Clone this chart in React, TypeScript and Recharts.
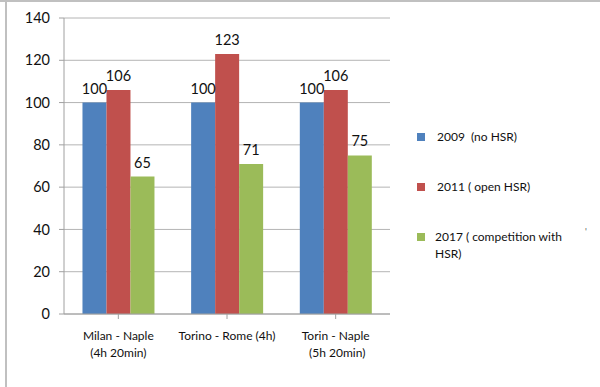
import { BarChart, Bar, XAxis, YAxis, CartesianGrid, LabelList } from "recharts"

const routes = ["Milan - Naple|(4h 20min)", "Torino - Rome (4h)", "Torin - Naple| (5h 20min)"]
const noHsr2009 = [100, 100, 100]
const openHsr2011 = [106, 123, 106]
const competition2017 = [65, 71, 75]
const yTicks = [0, 20, 40, 60, 80, 100, 120, 140]

const series = [
  { key: "y2009", label: "2009  (no HSR)", color: "#4F81BD" },
  { key: "y2011", label: "2011 ( open HSR)", color: "#C0504D" },
  { key: "y2017", label: "2017 ( competition with|HSR)", color: "#9BBB59" },
]

const data = routes.map((route, i) => ({
  route,
  y2009: noHsr2009[i],
  y2011: openHsr2011[i],
  y2017: competition2017[i],
}))

const font = "Lato, 'Open Sans', sans-serif"

function RouteTick({ x, y, payload }: any) {
  const lines = String(payload.value).split("|")
  return (
    <text x={x} y={y + 19} textAnchor="middle" fontSize={12} fill="#111" fontFamily={font}>
      {lines.map((line, i) => (
        <tspan key={i} x={x} dy={i === 0 ? 0 : 17}>
          {line}
        </tspan>
      ))}
    </text>
  )
}

function LegendBox() {
  return (
    <div style={{ position: "absolute", left: 417, top: 130, fontFamily: font, fontSize: 12, color: "#111" }}>
      {series.map((s, i) => (
        <div
          key={s.key}
          style={{ position: "absolute", left: 0, top: i * 50, display: "flex", alignItems: "flex-start" }}
        >
          <div style={{ width: 8, height: 8, background: s.color, marginTop: 3 }} />
          <div style={{ marginLeft: i === 2 ? 10 : 12, lineHeight: "17px", marginTop: -2, whiteSpace: "pre" }}>
            {s.label.split("|").map((l, j) => (
              <div key={j}>{l}</div>
            ))}
          </div>
        </div>
      ))}
    </div>
  )
}

export default function App() {
  return (
    <div
      style={{
        position: "absolute",
        left: 0,
        top: 0,
        width: 600,
        height: 387,
        background: "#fff",
        overflow: "hidden",
      }}
    >
      <div style={{ position: "absolute", left: 0, top: 0, width: 600, height: 2, background: "#c0c0c0" }} />
      <div style={{ position: "absolute", left: 5, top: 0, width: 2, height: 387, background: "#c0c0c0" }} />
      <div style={{ position: "absolute", left: 585, top: 226, fontSize: 9, color: "#555", fontFamily: font }}>'</div>
      <BarChart
        width={600}
        height={387}
        data={data}
        margin={{ top: 18, right: 210, left: 6, bottom: 23 }}
        barCategoryGap="17%"
        barGap={0}
      >
        <CartesianGrid vertical={false} stroke="#b4b4b4" />
        <XAxis
          dataKey="route"
          height={50}
          stroke="#a0a0a0"
          tickSize={5}
          tick={<RouteTick />}
          interval={0}
        />
        <YAxis
          width={58}
          domain={[0, 140]}
          ticks={yTicks}
          stroke="#a0a0a0"
          tickSize={5}
          tickMargin={9}
          tick={{ fontSize: 14.5, fill: "#111", fontFamily: font }}
          interval={0}
        />
        {series.map((s) => (
          <Bar key={s.key} dataKey={s.key} name={s.label} fill={s.color} isAnimationActive={false}>
            <LabelList
              dataKey={s.key}
              position="top"
              offset={9}
              style={{ fontSize: 14.5, fill: "#111", fontFamily: font }}
            />
          </Bar>
        ))}
      </BarChart>
      <LegendBox />
    </div>
  )
}
